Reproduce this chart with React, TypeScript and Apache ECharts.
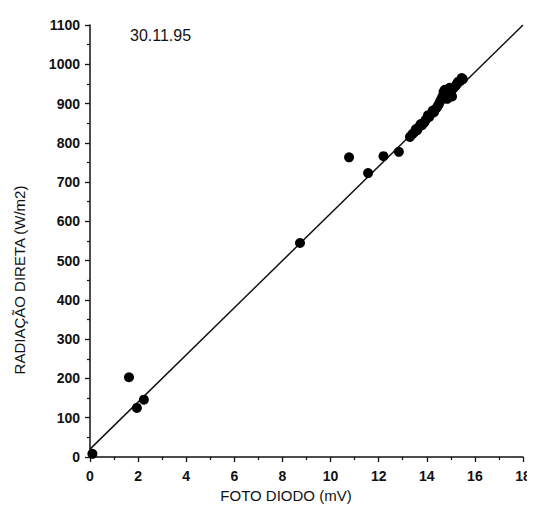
import React, { useEffect, useRef } from "react";
import * as echarts from "echarts";

const xValues: number[] = [
  0.1, 1.62, 1.95, 2.24, 8.73, 10.77, 11.56, 12.2, 12.84,
  13.3, 13.4, 13.5, 13.55, 13.6, 13.7, 13.75, 13.8, 13.9, 13.95, 14.0, 14.05, 14.1,
  14.2, 14.25, 14.3, 14.4, 14.45, 14.5, 14.55, 14.6, 14.65, 14.7, 14.75, 14.8, 14.85,
  14.9, 14.95, 15.0, 15.05, 15.1, 15.2, 15.25, 15.3, 15.4, 15.45, 15.5,
];
const yValues: number[] = [
  8, 203, 125, 146, 545, 763, 723, 766, 777,
  815, 822, 828, 835, 832, 842, 848, 845, 852, 858, 862, 870, 866,
  875, 882, 878, 888, 893, 898, 905, 910, 918, 930, 935, 920, 912,
  925, 940, 932, 918, 938, 945, 950, 955, 958, 965, 962,
];
const fitX: number[] = [0, 18];
const fitY: number[] = [20, 1100];

const xTitle = "FOTO DIODO (mV)";
const yTitle = "RADIAÇÃO DIRETA (W/m2)";
const dateLabel = "30.11.95";

const FONT = "'Liberation Sans', Arial, sans-serif";

export default function App() {
  const ref = useRef<HTMLDivElement>(null);
  useEffect(() => {
    if (!ref.current) return;
    const chart = echarts.init(ref.current, undefined, { renderer: "svg" });
    const axisCommon = {
      axisLine: { show: true, lineStyle: { color: "#111", width: 1.5 } },
      axisTick: { show: true, inside: false, length: 5, lineStyle: { color: "#111", width: 1.3 } },
      minorTick: { show: true, splitNumber: 2, length: 3, lineStyle: { color: "#111", width: 1.2 } },
      splitLine: { show: false },
      minorSplitLine: { show: false },
    };
    chart.setOption({
      animation: false,
      backgroundColor: "#fff",
      grid: { left: 90, right: 12, top: 25, bottom: 65, containLabel: false },
      xAxis: {
        type: "value",
        min: 0,
        max: 18,
        interval: 2,
        ...axisCommon,
        axisLabel: { fontFamily: FONT, fontSize: 14, fontWeight: "bold", color: "#111", margin: 12, formatter: (v: number) => String(v) },
      },
      yAxis: {
        type: "value",
        min: 0,
        max: 1100,
        interval: 100,
        ...axisCommon,
        axisLabel: { fontFamily: FONT, fontSize: 14, fontWeight: "bold", color: "#111", margin: 10, formatter: (v: number) => String(v) },
      },
      graphic: [
        {
          type: "text",
          left: 130,
          top: 27,
          style: { text: dateLabel, font: `16px ${FONT}`, fill: "#111" },
        },
        {
          type: "text",
          x: 286,
          y: 495,
          style: { text: xTitle, font: `15px ${FONT}`, fill: "#111", align: "center", verticalAlign: "middle" },
        },
        {
          type: "text",
          x: 19,
          y: 280,
          rotation: Math.PI / 2,
          style: { text: yTitle, font: `15px ${FONT}`, fill: "#111", align: "center", verticalAlign: "middle" },
        },
      ],
      series: [
        {
          type: "line",
          data: fitX.map((x, i) => [x, fitY[i]]),
          showSymbol: false,
          lineStyle: { color: "#111", width: 1.5 },
          z: 2,
        },
        {
          type: "scatter",
          data: xValues.map((x, i) => [x, yValues[i]]),
          symbolSize: 10,
          itemStyle: { color: "#000", opacity: 1 },
          z: 3,
        },
      ],
    });
    return () => chart.dispose();
  }, []);
  return <div ref={ref} style={{ width: 535, height: 522, margin: -8 }} />;
}
